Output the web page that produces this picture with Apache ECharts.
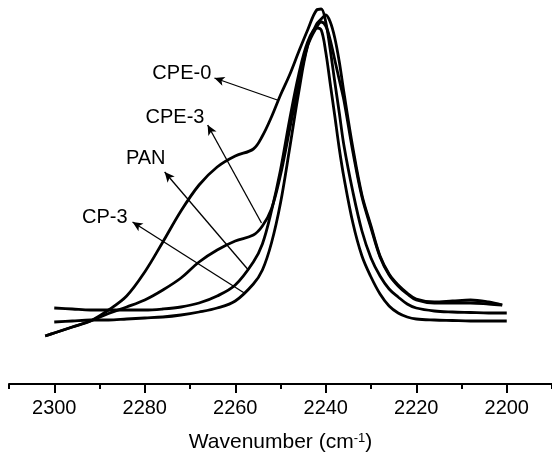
<!DOCTYPE html>
<html>
<head>
<meta charset="utf-8">
<script src="https://cdn.jsdelivr.net/npm/echarts@6/dist/echarts.min.js"></script>
<style>html,body{margin:0;padding:0;background:#fff}#c{width:552px;height:458px}</style>
</head>
<body>
<div id="c"></div>
<script>
// Wavenumber grid (cm-1)
var wavenumbers = [2302,2300,2296,2292,2288,2284,2280,2276,2272,2268,
                   2264,2260,2256,2254,2252,2250,2248,2246,2244,2242,
                   2241,2240,2239,2238,2237,2236,2234,2232,2230,2228,
                   2226,2224,2222,2220,2216,2212,2208,2204,2201,2200];
// Absorbance (a.u., offset)
var cpe0 = [0.48,0.51,0.57,0.63,0.74,0.88,1.12,1.42,1.73,1.99,
            2.17,2.28,2.35,2.48,2.67,2.89,3.09,3.32,3.54,3.74,
            3.75,3.62,3.34,3.02,2.71,2.39,1.92,1.53,1.26,1.08,
            0.95,0.87,0.80,0.76,0.73,0.72,0.715,0.71,0.71,0.71];
var cpe3 = [0.48,0.51,0.57,0.63,0.705,0.77,0.84,0.94,1.06,1.22,
            1.34,1.43,1.49,1.58,1.75,2.09,2.54,2.99,3.39,3.60,
            3.65,3.69,3.62,3.46,3.22,2.92,2.36,1.89,1.58,1.28,
            1.10,0.99,0.91,0.85,0.82,0.83,0.84,0.82,0.79,null];
var pan  = [null,0.76,0.75,0.74,0.74,0.74,0.74,0.75,0.77,0.81,
            0.88,0.99,1.22,1.40,1.73,2.14,2.64,3.09,3.42,3.56,
            3.54,3.32,3.00,2.68,2.35,2.07,1.61,1.28,1.07,0.90,
            0.78,0.71,0.67,0.65,0.64,0.635,0.63,0.63,0.63,0.63];
var cp3  = [null,0.62,0.63,0.64,0.64,0.65,0.66,0.67,0.69,0.72,
            0.76,0.83,1.00,1.14,1.41,1.81,2.35,2.91,3.38,3.57,
            3.62,3.58,3.44,3.24,3.04,2.84,2.32,1.87,1.56,1.27,
            1.09,0.98,0.90,0.84,0.81,0.81,0.81,0.80,0.79,null];

var majorTicks = [2300,2280,2260,2240,2220,2200];
var minorTicks = [2310,2290,2270,2250,2230,2210,2190];

// Annotation labels: text, label anchor (right edge), arrow tail (on curve), arrow head
var annNames = ['CPE-0','CPE-3','PAN','CP-3'];
var annLabelAt = [[2265.3,3.11],[2266.8,2.67],[2275.4,2.26],[2283.8,1.67]];
var annTail = [[2250.7,2.84],[2254.2,1.61],[2257.1,1.14],[2258.0,0.91]];
var annHead = [[2264.6,3.06],[2266.1,2.59],[2275.6,2.12],[2282.7,1.62]];

function pairs(ys){
  var out=[];
  for(var i=0;i<wavenumbers.length;i++){ if(ys[i]!==null) out.push([wavenumbers[i],ys[i]]); }
  return out;
}
var FONT = '"Liberation Sans", Arial, Helvetica, sans-serif';
var curves = [['CPE-0',cpe0],['CPE-3',cpe3],['PAN',pan],['CP-3',cp3]];
var series = curves.map(function(c){
  return {name:c[0], type:'line', data:pairs(c[1]), smooth:0.35, showSymbol:false,
          xAxisIndex:0, yAxisIndex:0, silent:true,
          lineStyle:{color:'#000', width:2.8}, z:3};
});
series.push({
  type:'scatter', xAxisIndex:0, yAxisIndex:0, symbolSize:0, silent:true,
  itemStyle:{opacity:1, color:'#000'},
  data: annNames.map(function(n,i){ return {name:n, value:annLabelAt[i]}; }),
  label:{show:true, position:'left', distance:0, formatter:'{b}', opacity:1,
         color:'#000', textBorderWidth:0, fontSize:20, fontFamily:FONT},
  markLine:{silent:true, symbol:['none','arrow'], symbolSize:[7,10], animation:false,
    label:{show:false}, lineStyle:{color:'#000', width:1.3, type:'solid', opacity:1},
    data: annNames.map(function(n,i){ return [{coord:annTail[i]},{coord:annHead[i]}]; })}
});

var chart = echarts.init(document.getElementById('c'), null, {renderer:'canvas'});
chart.setOption({
  animation:false,
  backgroundColor:'#fff',
  grid:{left:9, right:0, top:4, bottom:74, containLabel:false},
  xAxis:[{
    type:'value', min:2190, max:2310, inverse:true, position:'bottom',
    axisLine:{show:true, lineStyle:{color:'#000', width:2}},
    axisTick:{show:true, customValues:majorTicks, length:9, inside:false, lineStyle:{color:'#000', width:2}},
    axisLabel:{show:true, customValues:majorTicks, margin:14, color:'#000', fontSize:20, fontFamily:FONT,
      formatter:function(v){ return String(v); }},
    splitLine:{show:false},
    name:'Wavenumber (cm{s|-1})', nameLocation:'middle', nameGap:48,
    nameTextStyle:{color:'#000', fontSize:21, fontFamily:FONT,
      rich:{s:{fontSize:13, fontFamily:FONT, color:'#000', verticalAlign:'top'}}}
  },{
    type:'value', min:2190, max:2310, inverse:true, position:'bottom',
    axisLine:{show:false},
    axisTick:{show:true, customValues:minorTicks, length:5, inside:false, lineStyle:{color:'#000', width:2}},
    axisLabel:{show:false}, splitLine:{show:false}
  }],
  yAxis:{type:'value', min:0, max:3.8, show:false, splitLine:{show:false}},
  series:series
});
</script>
</body>
</html>
